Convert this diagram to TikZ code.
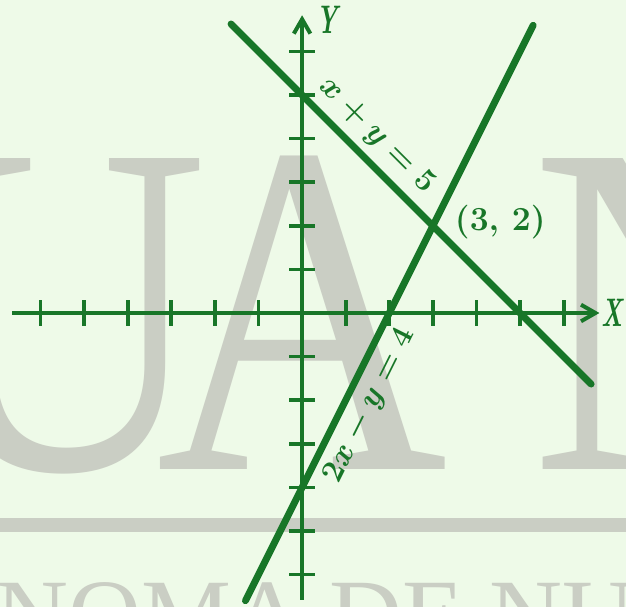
\documentclass[tikz,border=0pt]{standalone}
\usepackage{amsmath}
\usepackage{fontspec}
\usepackage{tikz}
\usetikzlibrary{arrows.meta,positioning}
\newfontfamily\wmfont{Liberation Serif}
\definecolor{inkgreen}{RGB}{24,118,40}
\definecolor{paper}{RGB}{238,250,232}
\definecolor{wmgray}{RGB}{202,206,196}

\begin{document}
\begin{tikzpicture}[
  axis/.style={draw=inkgreen, line width=2.6pt},
  axisarrow/.style={axis, -{Straight Barb[length=3.3mm, width=3.8mm]}},
  tick/.style={draw=inkgreen, line width=2.4pt},
  graph/.style={draw=inkgreen, line width=4.5pt, line cap=round},
  lbl/.style={text=inkgreen, inner sep=0pt},
  axlbl/.style={lbl, font=\fontsize{26}{30}\selectfont\bfseries\itshape},
  eqn/.style={lbl, font=\fontsize{20}{24}\selectfont\boldmath},
  wm/.style={text=wmgray, inner sep=0pt, anchor=base}
]
\useasboundingbox (-6.93,-6.74) rectangle (7.43,7.18);
\fill[paper] (-6.93,-6.74) rectangle (7.43,7.18);

% watermark of the scan
\begin{scope}
  \clip (-6.93,-6.74) rectangle (7.43,7.18);
  \node[wm, xscale=0.85, font=\wmfont\fontsize{310}{310}\selectfont] (wmU) at (-5.5,-3.6) {U};
  \node[wm, xscale=0.85, font=\wmfont\fontsize{310}{310}\selectfont] (wmA) at (0,-3.6) {A};
  \node[wm, xscale=0.85, font=\wmfont\fontsize{310}{310}\selectfont] (wmN) at (8.6,-3.6) {N};
  \fill[wmgray] (-6.93,-4.70) rectangle (7.43,-5.02);
  \node[wm, anchor=base west, font=\wmfont\fontsize{66}{66}\selectfont] (wmline) at (-7.04,-7.73) {NOMA DE NUEVO};
\end{scope}

% axes
\coordinate (xl) at (-6.65,0);
\coordinate (xr) at (6.82,0);
\coordinate (yb) at (0,-6.58);
\coordinate (yt) at (0,6.83);
\draw[axisarrow] (xl) -- (xr);
\draw[axisarrow] (yb) -- (yt);
\foreach \k in {-6,...,-1,1,2,...,6} {
  \draw[tick] (\k,-0.29) -- (\k,0.29);
  \draw[tick] (-0.3,\k) -- (0.3,\k);
}
\node[axlbl] (xlbl) at (7.11,0) {\scalebox{0.62}[1]{X}};
\node[axlbl] (ylbl) at (0.57,6.72) {\scalebox{0.62}[1]{Y}};

% the two lines
\coordinate (a1) at (-1.63,6.63);
\coordinate (a2) at (6.63,-1.63);
\coordinate (b1) at (-1.3,-6.6);
\coordinate (b2) at (5.3,6.6);
\draw[graph] (a1) -- (a2);
\draw[graph] (b1) -- (b2);
\node[eqn, rotate=-45] (eqA) at (1.72,4.06) {$x + y = 5$};
\node[eqn, rotate=63.43] (eqB) at (1.56,-2.13) {$2x - y = 4$};

% intersection
\coordinate (P) at (3,2);
\node[lbl, font=\fontsize{22}{26}\selectfont\bfseries, right=0.5cm of P, yshift=0.9mm] (Plbl) {(3,\ 2)};
\end{tikzpicture}
\end{document}
